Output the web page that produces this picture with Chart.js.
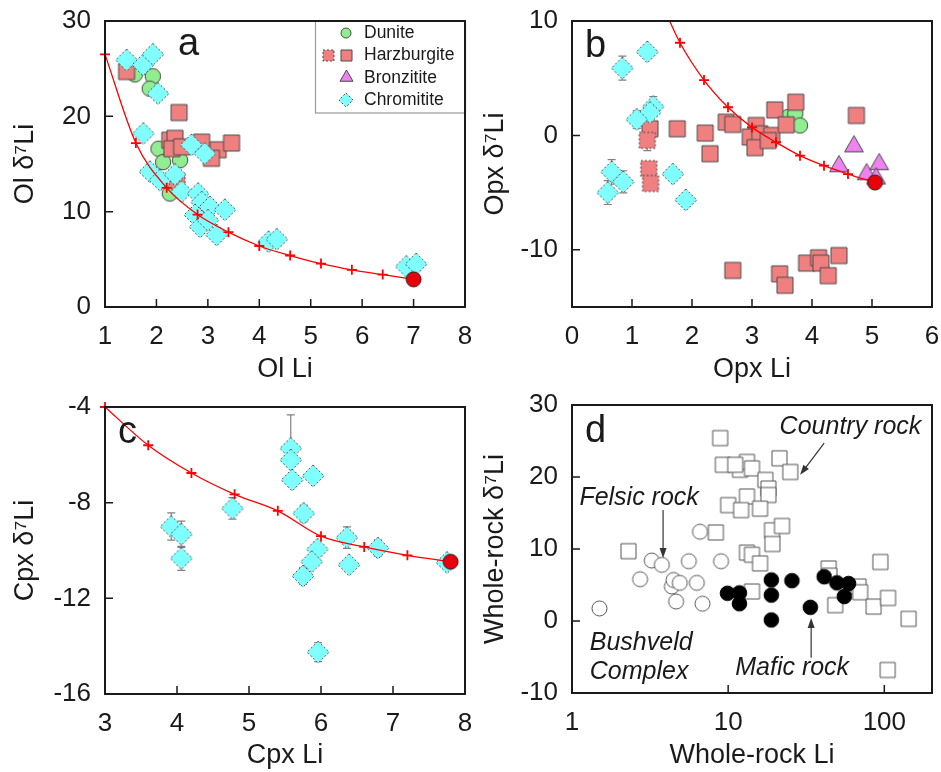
<!DOCTYPE html>
<html>
<head>
<meta charset="utf-8">
<script src="https://cdn.jsdelivr.net/npm/chart.js@4.4.0/dist/chart.umd.min.js"></script>
<style>
  body { margin: 0; background: #fff; width: 941px; height: 772px; position: relative; overflow: hidden; }
  canvas { position: absolute; left: 0; top: 0; }
</style>
</head>
<body>
<canvas id="chartA" width="941" height="772"></canvas>
<canvas id="chartB" width="941" height="772"></canvas>
<canvas id="chartC" width="941" height="772"></canvas>
<canvas id="chartD" width="941" height="772"></canvas>
<script>
'use strict';

// ---- panel a : olivine ----
let aCurveX = [1, 1.6, 2.2, 2.8, 3.4, 4.0, 4.6, 5.2, 5.8, 6.4, 7.0];
let aCurveY = [26.5, 17.2, 12.5, 9.7, 7.85, 6.4, 5.4, 4.55, 3.9, 3.4, 2.9];
let aEndX = [7.0];
let aEndY = [2.9];
let aDuniteX = [1.58, 1.93, 1.87, 2.04, 2.13, 2.46, 2.26];
let aDuniteY = [24.4, 24.2, 22.9, 16.6, 15.2, 15.4, 11.9];
let aHarzX = [1.42, 2.44, 2.26, 2.36, 2.3, 2.49, 2.88, 3.2, 3.46, 3.07];
let aHarzY = [24.7, 20.4, 17.5, 17.7, 16.6, 16.8, 17.3, 16.5, 17.2, 15.6];
let aHarzDashX = [2.4];
let aHarzDashY = [13.2];
let aChromX = [1.42, 1.74, 1.93, 2.03, 1.745, 2.68, 2.94, 1.875, 2.07, 2.36, 2.49, 2.81, 2.88, 3.04, 3.33, 2.75, 2.85, 3.0, 3.17, 4.18, 4.34, 6.86, 7.05];
let aChromY = [25.9, 25.4, 26.5, 22.4, 18.2, 17.0, 16.1, 14.2, 13.3, 13.9, 12.1, 11.9, 11.0, 10.5, 10.2, 9.65, 8.4, 9.1, 7.55, 6.85, 7.1, 4.25, 4.5];
let aXTicks = [1, 2, 3, 4, 5, 6, 7, 8];
let aYTicks = [0, 10, 20, 30];

// ---- panel b : orthopyroxene ----
let bCurveX = [1.4, 1.8, 2.2, 2.6, 3.0, 3.4, 3.8, 4.2, 4.6, 5.05];
let bCurveY = [12.7, 8.1, 4.84, 2.46, 0.7, -0.6, -1.77, -2.65, -3.38, -4.12];
let bEndX = [5.05];
let bEndY = [-4.12];
let bDuniteX = [3.6, 3.72, 3.8];
let bDuniteY = [1.6, 1.9, 0.87];
let bHarzX = [1.3, 1.755, 2.22, 2.3, 2.57, 2.68, 3.07, 2.97, 3.13, 3.05, 3.33, 3.27, 3.38, 3.57, 3.73, 4.74, 2.68, 3.46, 3.55, 3.91, 4.11, 4.15, 4.27, 4.45];
let bHarzY = [0.58, 0.58, 0.2, -1.6, 1.16, 0.96, 0.87, -0.14, 0.14, -1.07, 0, -0.45, 2.23, 0.93, 2.9, 1.74, -11.8, -12.1, -13.1, -11.16, -10.7, -11.16, -12.26, -10.5];
let bHarzDashX = [1.255, 1.28, 1.31];
let bHarzDashY = [-0.43, -2.9, -4.2];
let bHarzDashErr = [0.9, 0, 0.5];
let bBronzX = [4.7, 4.45, 4.91, 5.12, 5.07];
let bBronzY = [-0.96, -2.7, -3.4, -2.52, -3.77];
let bChromX = [0.84, 1.255, 1.355, 1.3, 1.08, 0.66, 0.855, 0.595, 1.68, 1.895];
let bChromY = [5.88, 7.3, 2.52, 2.0, 1.39, -3.19, -4.06, -5.0, -3.39, -5.65];
let bChromErr = [1.05, 0, 0.87, 0, 0.78, 1.08, 0.97, 1.04, 0, 0];
let bXTicks = [0, 1, 2, 3, 4, 5, 6];
let bYTicks = [-10, 0, 10];

// ---- panel c : clinopyroxene ----
let cCurveX = [3, 3.6, 4.2, 4.8, 5.4, 6.0, 6.6, 7.2, 7.8];
let cCurveY = [-4, -5.6, -6.76, -7.65, -8.34, -9.4, -9.85, -10.2, -10.47];
let cEndX = [7.8];
let cEndY = [-10.47];
let cChromX = [3.92, 4.06, 4.06, 4.77, 5.58, 5.58, 5.6, 5.89, 5.76, 6.36, 5.95, 5.87, 5.75, 6.39, 6.79, 5.96, 7.75];
let cChromY = [-9.0, -9.32, -10.33, -8.24, -5.73, -6.22, -7.05, -6.88, -8.45, -9.46, -9.95, -10.47, -11.07, -10.6, -9.9, -14.25, -10.5];
let cChromErr = [0.57, 0.55, 0.5, 0.45, 1.4, 0, 0.3, 0, 0.35, 0.45, 0.3, 0, 0.35, 0, 0.35, 0.4, 0];
let cXTicks = [3, 4, 5, 6, 7, 8];
let cYTicks = [-16, -12, -8, -4];

// ---- panel d : whole rock ----
let dCountryX = [8.89, 9.25, 11.9, 13.2, 11.1, 14.2, 21.3, 25.0, 17.3, 18.1, 18.1, 13.2, 10.0, 12.1, 16.0, 8.34, 19.1, 22.1, 19.2, 13.2, 14.2, 16.0, 14.2, 44.0, 44.5, 48.5, 68.4, 70, 85.4, 94.3, 105.6, 143, 105, 2.3];
let dCountryY = [25.4, 21.7, 21.0, 22.1, 21.7, 21.2, 22.6, 20.7, 19.6, 18.4, 17.5, 17.3, 16.1, 15.4, 15.6, 12.3, 12.6, 13.2, 10.7, 9.5, 9.2, 8.0, 4.1, 7.3, 6.3, 2.2, 4.8, 4.0, 2.0, 8.2, 3.2, 0.3, -6.8, 9.7];
let dFelsicX = [1.5, 2.73, 3.24, 3.76, 4.36, 4.47, 4.9, 4.64, 5.6, 6.3, 6.6, 6.85, 9.0];
let dFelsicY = [1.75, 5.8, 8.4, 7.8, 4.8, 5.7, 5.3, 2.7, 8.3, 5.3, 12.4, 2.4, 8.3];
let dMaficX = [9.9, 11.8, 11.8, 18.9, 18.9, 18.9, 25.6, 33.6, 41.2, 49.7, 59.0, 55.4];
let dMaficY = [3.85, 3.9, 2.4, 5.7, 3.6, 0.14, 5.6, 1.9, 6.15, 5.3, 5.2, 3.4];
let dXTicks = [1, 10, 100];
let dYTicks = [-10, 0, 10, 20, 30];

let legendNames = ['Dunite', 'Harzburgite', 'Bronzitite', 'Chromitite'];


const FONT = "'Liberation Sans', Arial, sans-serif";
const INK = '#1a1a1a';
const EDGE = '#4a4a4a';

function pts(xs, ys) {
    return xs.map((x, i) => ({x: x, y: ys[i]}));
}

function shapePath(g, shape, x, y, r) {
    g.beginPath();
    if (shape === 'circle') {
        g.arc(x, y, r, 0, Math.PI * 2);
    } else if (shape === 'square') {
        g.rect(x - r, y - r, 2 * r, 2 * r);
    } else if (shape === 'diamond') {
        g.moveTo(x, y - r); g.lineTo(x + r, y); g.lineTo(x, y + r); g.lineTo(x - r, y);
        g.closePath();
    } else if (shape === 'triangle') {
        g.moveTo(x, y - r); g.lineTo(x + r * 0.866, y + r / 2); g.lineTo(x - r * 0.866, y + r / 2);
        g.closePath();
    }
}

// marker drawn on a small canvas, used as pointStyle (lets us have dashed outlines)
function marker(shape, r, fill, stroke, dash) {
    let size = Math.ceil(2 * r + 4);
    let c = document.createElement('canvas');
    c.width = size; c.height = size;
    let g = c.getContext('2d');
    shapePath(g, shape, size / 2, size / 2, r);
    g.fillStyle = fill;
    g.fill();
    g.lineWidth = 1;
    g.strokeStyle = stroke;
    if (dash) g.setLineDash(dash);
    g.stroke();
    return c;
}

const M = {
    dunite: marker('circle', 7.7, '#90EE90', EDGE),
    harz: marker('square', 8, '#F08080', EDGE),
    harzDash: marker('square', 8, '#F08080', EDGE, [2, 2]),
    bronz: marker('triangle', 10.8, '#EE82EE', EDGE),
    chrom: marker('diamond', 11, '#80FFFF', EDGE, [2, 2]),
    end: marker('circle', 7.5, '#E8000B', '#222'),
    country: marker('square', 7.5, '#fff', '#555'),
    felsic: marker('circle', 7.5, '#fff', '#555'),
    mafic: marker('circle', 7.3, '#000', '#000')
};

function scat(data, style, order, extra) {
    return Object.assign({
        data: data, pointStyle: style, pointRadius: 8, pointHoverRadius: 8,
        showLine: false, order: order
    }, extra || {});
}

function curve(data, order, clip) {
    return {
        data: data, showLine: true, borderColor: '#FF0000', borderWidth: 1.3,
        cubicInterpolationMode: 'monotone', pointStyle: 'cross', pointRadius: 5,
        pointHoverRadius: 5, pointBorderColor: '#FF0000', pointBorderWidth: 1.8,
        order: order, clip: clip
    };
}

// vertical error bars from dataset.yErr
Chart.register({
    id: 'errorBars',
    beforeDatasetsDraw(chart) {
        let ctx = chart.ctx;
        chart.data.datasets.forEach((ds, i) => {
            if (!ds.yErr) return;
            let meta = chart.getDatasetMeta(i);
            let ys = chart.scales[meta.yAxisID];
            ctx.save();
            ctx.strokeStyle = '#808080';
            ctx.lineWidth = 1.2;
            ctx.beginPath();
            meta.data.forEach((p, j) => {
                let e = ds.yErr[j];
                if (!e) return;
                let top = ys.getPixelForValue(ds.data[j].y + e);
                let bot = ys.getPixelForValue(ds.data[j].y - e);
                ctx.moveTo(p.x, top); ctx.lineTo(p.x, bot);
                ctx.moveTo(p.x - 4, top); ctx.lineTo(p.x + 4, top);
                ctx.moveTo(p.x - 4, bot); ctx.lineTo(p.x + 4, bot);
            });
            ctx.stroke();
            ctx.restore();
        });
    }
});

// frame, inward ticks, panel letter and extras
function decor(letter, lx, ly, extra) {
    return {
        id: 'decor',
        afterDatasetsDraw(chart) {
            let ctx = chart.ctx;
            let a = chart.chartArea;
            let sx = chart.scales.x, sy = chart.scales.y;
            ctx.save();
            if (extra) extra(ctx, chart);
            ctx.fillStyle = INK;
            ctx.font = '38px ' + FONT;
            ctx.textAlign = 'left';
            ctx.textBaseline = 'alphabetic';
            ctx.fillText(letter, a.left + lx, a.top + ly);

            ctx.strokeStyle = INK;
            ctx.lineWidth = 1.5;
            ctx.beginPath();
            sx.ticks.forEach(t => {
                let px = sx.getPixelForValue(t.value);
                if (px > a.left + 2 && px < a.right - 2) {
                    ctx.moveTo(px, a.bottom); ctx.lineTo(px, a.bottom - 8);
                }
            });
            sy.ticks.forEach(t => {
                let py = sy.getPixelForValue(t.value);
                if (py > a.top + 2 && py < a.bottom - 2) {
                    ctx.moveTo(a.left, py); ctx.lineTo(a.left + 8, py);
                }
            });
            ctx.stroke();
            ctx.lineWidth = 2;
            ctx.strokeRect(a.left, a.top, a.right - a.left, a.bottom - a.top);
            ctx.restore();
        }
    };
}

function axis(type, min, max, tickList, title, size, titlePad) {
    return {
        type: type, min: min, max: max,
        afterBuildTicks: s => { s.ticks = tickList.map(v => ({value: v})); },
        afterFit: s => {
            if (s.isHorizontal()) s.height = size; else s.width = size;
        },
        grid: {display: false, drawTicks: true, tickLength: 14},
        border: {display: false},
        ticks: {
            font: {family: FONT, size: 26}, color: INK, padding: 0,
            autoSkip: false, maxRotation: 0, minRotation: 0,
            callback: v => String(v)
        },
        title: {
            display: true, text: title, color: INK,
            font: {family: FONT, size: 27},
            padding: titlePad
        }
    };
}

function makeChart(id, datasets, pad, xAxis, yAxis, plugin) {
    return new Chart(document.getElementById(id), {
        type: 'scatter',
        data: {datasets: datasets},
        options: {
            responsive: false,
            animation: false,
            events: [],
            layout: {padding: pad},
            plugins: {legend: {display: false}, tooltip: {enabled: false}},
            scales: {x: xAxis, y: yAxis}
        },
        plugins: [plugin]
    });
}

function drawMark(ctx, img, x, y) {
    ctx.drawImage(img, Math.round(x - img.width / 2), Math.round(y - img.height / 2));
}

let legendMarks = [
    [marker('circle', 5, '#90EE90', EDGE)],
    [marker('square', 5.5, '#F08080', EDGE, [2, 2]), marker('square', 5.5, '#F08080', EDGE)],
    [marker('triangle', 7.5, '#EE82EE', EDGE)],
    [marker('diamond', 7, '#80FFFF', EDGE, [2, 2])]
];

function legendA(ctx, chart) {
    let a = chart.chartArea;
    let x0 = a.right - 150, y0 = a.top, w = 150, h = 92;
    ctx.fillStyle = '#fff';
    ctx.fillRect(x0, y0, w, h);
    ctx.strokeStyle = '#9a9a9a';
    ctx.lineWidth = 1.2;
    ctx.strokeRect(x0 + 0.5, y0, w, h);
    ctx.font = '17.5px ' + FONT;
    ctx.textBaseline = 'middle';
    ctx.textAlign = 'left';
    legendNames.forEach((name, i) => {
        let y = y0 + 12 + i * 22.4;
        let marks = legendMarks[i];
        if (marks.length === 2) {
            drawMark(ctx, marks[0], x0 + 13, y);
            drawMark(ctx, marks[1], x0 + 31, y);
        } else {
            drawMark(ctx, marks[0], x0 + 31, y);
        }
        ctx.fillStyle = INK;
        ctx.fillText(name, x0 + 49, y);
    });
}

function arrow(ctx, x1, y1, x2, y2) {
    let ang = Math.atan2(y2 - y1, x2 - x1);
    ctx.beginPath();
    ctx.moveTo(x1, y1);
    ctx.lineTo(x2 - 6 * Math.cos(ang), y2 - 6 * Math.sin(ang));
    ctx.stroke();
    ctx.beginPath();
    ctx.moveTo(x2, y2);
    ctx.lineTo(x2 - 10 * Math.cos(ang) + 3.5 * Math.sin(ang), y2 - 10 * Math.sin(ang) - 3.5 * Math.cos(ang));
    ctx.lineTo(x2 - 10 * Math.cos(ang) - 3.5 * Math.sin(ang), y2 - 10 * Math.sin(ang) + 3.5 * Math.cos(ang));
    ctx.closePath();
    ctx.fill();
}

function notesD(ctx, chart) {
    let sx = chart.scales.x, sy = chart.scales.y;
    let X = v => sx.getPixelForValue(v), Y = v => sy.getPixelForValue(v);
    ctx.fillStyle = INK;
    ctx.font = 'italic 25px ' + FONT;
    ctx.textBaseline = 'middle';
    ctx.textAlign = 'right';
    ctx.fillText('Country rock', X(172.6), Y(26.9));
    ctx.textAlign = 'center';
    ctx.fillText('Felsic rock', X(2.69), Y(17.1));
    ctx.fillText('Mafic rock', X(25.7), Y(-6.5));
    ctx.textAlign = 'left';
    ctx.fillText('Bushveld', X(1.3), Y(-3.06));
    ctx.fillText('Complex', X(1.3), Y(-7.1));
    ctx.strokeStyle = '#333';
    ctx.fillStyle = '#333';
    ctx.lineWidth = 1.2;
    arrow(ctx, X(41.2), Y(24.7), X(28.9), Y(20.3));
    arrow(ctx, X(3.83), Y(15.4), X(3.83), Y(8.75));
    arrow(ctx, X(34.0), Y(-5.1), X(34.0), Y(0.42));
}

// panel a
makeChart('chartA', [
    scat(pts(aEndX, aEndY), M.end, 0, {clip: false}),
    curve(pts(aCurveX, aCurveY), 1, false),
    scat(pts(aChromX, aChromY), M.chrom, 2),
    scat(pts(aHarzDashX, aHarzDashY), M.harzDash, 3),
    scat(pts(aHarzX, aHarzY), M.harz, 4),
    scat(pts(aDuniteX, aDuniteY), M.dunite, 5)
], {left: 0, top: 21, right: 476, bottom: 386},
    axis('linear', 1, 8, aXTicks, 'Ol Li', 79, {top: 0, bottom: 0}),
    axis('linear', 0, 30, aYTicks, 'Ol δ⁷Li', 105, {top: 9, bottom: 0}),
    decor('a', 73, 34, legendA));

// panel b
makeChart('chartB', [
    scat(pts(bEndX, bEndY), M.end, 0),
    curve(pts(bCurveX, bCurveY), 1, 0),
    scat(pts(bChromX, bChromY), M.chrom, 2, {yErr: bChromErr}),
    scat(pts(bBronzX, bBronzY), M.bronz, 3),
    scat(pts(bHarzDashX, bHarzDashY), M.harzDash, 4, {yErr: bHarzDashErr}),
    scat(pts(bHarzX, bHarzY), M.harz, 5),
    scat(pts(bDuniteX, bDuniteY), M.dunite, 6)
], {left: 470, top: 21, right: 9, bottom: 386},
    axis('linear', 0, 6, bXTicks, 'Opx Li', 79, {top: 0, bottom: 0}),
    axis('linear', -15, 10, bYTicks, 'Opx δ⁷Li', 102, {top: 9, bottom: 0}),
    decor('b', 13, 36));

// panel c
makeChart('chartC', [
    scat(pts(cEndX, cEndY), M.end, 0),
    curve(pts(cCurveX, cCurveY), 1, false),
    scat(pts(cChromX, cChromY), M.chrom, 2, {yErr: cChromErr})
], {left: 0, top: 407, right: 476, bottom: 0},
    axis('linear', 3, 8, cXTicks, 'Cpx Li', 78, {top: 0, bottom: 0}),
    axis('linear', -16, -4, cYTicks, 'Cpx δ⁷Li', 105, {top: 9, bottom: 0}),
    decor('c', 13, 36));

// panel d
makeChart('chartD', [
    scat(pts(dMaficX, dMaficY), M.mafic, 0),
    scat(pts(dFelsicX, dFelsicY), M.felsic, 1),
    scat(pts(dCountryX, dCountryY), M.country, 2)
], {left: 470, top: 405, right: 9, bottom: 0},
    axis('logarithmic', 1, 202, dXTicks, 'Whole-rock Li', 79, {top: 0, bottom: 0}),
    axis('linear', -10, 30, dYTicks, 'Whole-rock δ⁷Li', 102, {top: 9, bottom: 0}),
    decor('d', 13, 37, notesD));
</script>
</body>
</html>
